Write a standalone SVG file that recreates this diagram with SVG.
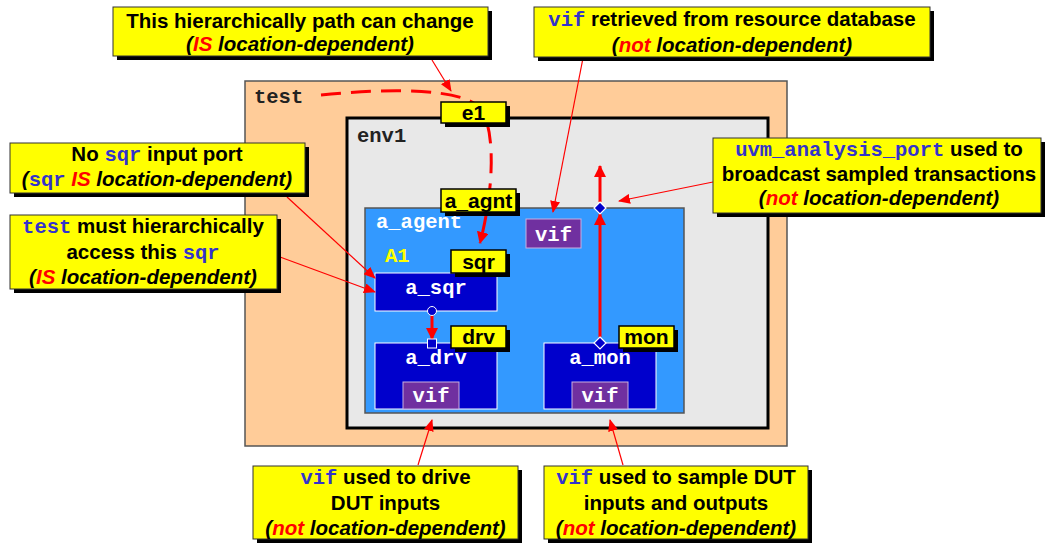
<svg xmlns="http://www.w3.org/2000/svg" width="1047" height="543" viewBox="0 0 1047 543">
<defs>
<style>
.call{fill:#ffff00;stroke:#333;stroke-width:1}
.shd{fill:#000}
.ct{font-family:"Liberation Sans",Arial,sans-serif;font-weight:bold;font-size:20.5px;fill:#000;text-anchor:middle}
.it{font-style:italic}
.red{fill:#ff0000}
.code{font-family:"Liberation Mono","Courier New",monospace;font-weight:bold;font-size:20.5px;fill:#3333cc;font-style:normal}
.lbl{fill:#ffff00;stroke:#000;stroke-width:1.5}
.lt{font-family:"Liberation Sans",Arial,sans-serif;font-weight:bold;font-size:21px;fill:#000;text-anchor:middle}
.mono{font-family:"Liberation Mono","Courier New",monospace;font-weight:bold;font-size:20.5px}
.blk{fill:#0000cc;stroke:#ffffff;stroke-width:1}
.vif{fill:#7030a0;stroke:#c8b0e0;stroke-width:1}
.wt{fill:#fff;text-anchor:middle}
.thin{stroke:#ff0000;stroke-width:1.2;fill:none;marker-end:url(#ah)}
.thick{stroke:#ff0000;stroke-width:3;fill:none;marker-end:url(#ahk)}
</style>
<marker id="ah" markerUnits="userSpaceOnUse" markerWidth="12" markerHeight="10" refX="11" refY="5" orient="auto">
<path d="M0,0 L12,5 L0,10 z" fill="#ff0000"/>
</marker>
<marker id="ahk" markerUnits="userSpaceOnUse" markerWidth="12" markerHeight="12" refX="11" refY="6" orient="auto">
<path d="M0,0 L12,6 L0,12 z" fill="#ff0000"/>
</marker>
</defs>

<g id="test">
<rect x="245" y="81" width="542" height="365" fill="#ffcc99" stroke="#555" stroke-width="1.5"/>
<text x="254" y="103" class="mono" fill="#222">test</text>
</g>
<g id="env1">
<rect x="347" y="118" width="421" height="310" fill="#e8e8e8" stroke="#000" stroke-width="3"/>
<text x="357" y="142" class="mono" fill="#222">env1</text>
</g>
<g id="a_agent">
<rect x="365" y="208" width="319" height="205" fill="#3399ff" stroke="#555" stroke-width="1.5"/>
<text x="376" y="228" class="mono" fill="#fff">a_agent</text>
<text x="385" y="262" class="mono" fill="#ffff00">A1</text>
</g>
<g id="vif_agent">
<rect x="526" y="219" width="55" height="29" class="vif"/>
<text x="553.5" y="241" class="mono wt">vif</text>
</g>
<g id="a_sqr">
<rect x="375" y="273" width="122" height="38" class="blk"/>
<text x="436" y="294" class="mono wt">a_sqr</text>
</g>
<g id="a_drv">
<rect x="375" y="343" width="122" height="66" class="blk"/>
<text x="436" y="364" class="mono wt">a_drv</text>
<rect x="403" y="382" width="56" height="27" class="vif"/>
<text x="431" y="402" class="mono wt">vif</text>
</g>
<g id="a_mon">
<rect x="544" y="343" width="112" height="66" class="blk"/>
<text x="600" y="364" class="mono wt">a_mon</text>
<rect x="572" y="382" width="56" height="27" class="vif"/>
<text x="600" y="402" class="mono wt">vif</text>
</g>

<g id="connectors">
<path d="M321 95 C390 88 462 88 480 108 C496 128 494 190 480 243" stroke="#ff0000" stroke-width="3" fill="none" stroke-dasharray="20 10" marker-end="url(#ahk)"/>
<line x1="432" y1="315" x2="432" y2="339" class="thick"/>
<line x1="600" y1="337" x2="600" y2="214" class="thick"/>
<line x1="600" y1="202" x2="600" y2="166" class="thick"/>
<line x1="432" y1="60" x2="451" y2="91" class="thin"/>
<line x1="583" y1="58" x2="553" y2="212" class="thin"/>
<line x1="713" y1="182" x2="619" y2="201" class="thin"/>
<line x1="287" y1="197" x2="375" y2="278" class="thin"/>
<line x1="280" y1="257" x2="375" y2="292" class="thin"/>
<line x1="418" y1="465" x2="432" y2="420" class="thin"/>
<line x1="623" y1="465" x2="610" y2="420" class="thin"/>
<circle cx="432" cy="311" r="4.5" fill="#0000cc" stroke="#fff" stroke-width="1"/>
<rect x="427.5" y="339" width="9" height="9" fill="#0000cc" stroke="#fff" stroke-width="1"/>
<path d="M600 337 L606 343 L600 349 L594 343 z" fill="#0000cc" stroke="#fff" stroke-width="1.2"/>
<path d="M600 202 L606 208 L600 214 L594 208 z" fill="#0000cc" stroke="#fff" stroke-width="1.2"/>
</g>

<g id="lbl_e1">
<rect x="445" y="106" width="65" height="21" class="shd"/>
<rect x="441" y="102" width="65" height="21" class="lbl"/>
<text x="473.5" y="120" class="lt">e1</text>
</g>
<g id="lbl_a_agnt">
<rect x="445" y="193" width="75" height="23" class="shd"/>
<rect x="441" y="189" width="75" height="23" class="lbl"/>
<text x="478.5" y="208" class="lt">a_agnt</text>
</g>
<g id="lbl_sqr">
<rect x="455" y="254" width="55" height="23" class="shd"/>
<rect x="451" y="250" width="55" height="23" class="lbl"/>
<text x="478.5" y="269" class="lt">sqr</text>
</g>
<g id="lbl_drv">
<rect x="455" y="330" width="55" height="22" class="shd"/>
<rect x="451" y="326" width="55" height="22" class="lbl"/>
<text x="478.5" y="344" class="lt">drv</text>
</g>
<g id="lbl_mon">
<rect x="623" y="330" width="55" height="22" class="shd"/>
<rect x="619" y="326" width="55" height="22" class="lbl"/>
<text x="646.5" y="344" class="lt">mon</text>
</g>

<g id="callout_path">
<rect x="117" y="11" width="375" height="49" class="shd"/>
<rect x="113" y="7" width="375" height="49" class="call"/>
<text x="300" y="28" class="ct">This hierarchically path can change</text>
<text x="300" y="51" class="ct it">(<tspan class="red">IS</tspan> location-dependent)</text>
</g>
<g id="callout_vif_db">
<rect x="538" y="11" width="396" height="50" class="shd"/>
<rect x="534" y="7" width="396" height="50" class="call"/>
<text x="732" y="26" class="ct"><tspan class="code">vif</tspan> retrieved from resource database</text>
<text x="732" y="52" class="ct it">(<tspan class="red">not</tspan> location-dependent)</text>
</g>
<g id="callout_ap">
<rect x="717" y="142" width="328" height="75" class="shd"/>
<rect x="713" y="138" width="328" height="75" class="call"/>
<text x="879" y="156" class="ct"><tspan class="code">uvm_analysis_port</tspan> used to</text>
<text x="879" y="181" class="ct">broadcast sampled transactions</text>
<text x="879" y="205" class="ct it">(<tspan class="red">not</tspan> location-dependent)</text>
</g>
<g id="callout_sqr_port">
<rect x="14" y="147" width="295" height="50" class="shd"/>
<rect x="10" y="143" width="295" height="50" class="call"/>
<text x="157" y="161" class="ct">No <tspan class="code">sqr</tspan> input port</text>
<text x="157" y="186" class="ct it">(<tspan class="code">sqr</tspan> <tspan class="red">IS</tspan> location-dependent)</text>
</g>
<g id="callout_access">
<rect x="14" y="219" width="267" height="74" class="shd"/>
<rect x="10" y="215" width="267" height="74" class="call"/>
<text x="143" y="233" class="ct"><tspan class="code">test</tspan> must hierarchically</text>
<text x="143" y="259" class="ct">access this <tspan class="code">sqr</tspan></text>
<text x="143" y="284" class="ct it">(<tspan class="red">IS</tspan> location-dependent)</text>
</g>
<g id="callout_drv">
<rect x="257" y="470" width="265" height="75" class="shd"/>
<rect x="253" y="466" width="265" height="73" class="call"/>
<text x="385.5" y="484" class="ct"><tspan class="code">vif</tspan> used to drive</text>
<text x="385.5" y="510" class="ct">DUT inputs</text>
<text x="385.5" y="535" class="ct it">(<tspan class="red">not</tspan> location-dependent)</text>
</g>
<g id="callout_mon">
<rect x="548" y="470" width="264" height="75" class="shd"/>
<rect x="544" y="466" width="264" height="73" class="call"/>
<text x="676" y="484" class="ct"><tspan class="code">vif</tspan> used to sample DUT</text>
<text x="676" y="510" class="ct">inputs and outputs</text>
<text x="676" y="535" class="ct it">(<tspan class="red">not</tspan> location-dependent)</text>
</g>
</svg>
